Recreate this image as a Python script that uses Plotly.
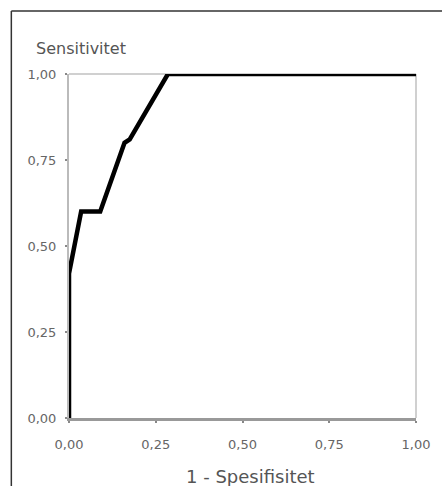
import plotly.graph_objects as go

# ROC curve points
fpr = [0.0, 0.0, 0.035, 0.09, 0.16, 0.175, 0.285, 1.0]   # 1 - Spesifisitet
tpr = [0.0, 0.42, 0.60, 0.60, 0.80, 0.81, 1.0, 1.0]     # Sensitivitet

tick_vals = [0.0, 0.25, 0.5, 0.75, 1.0]
tick_text = ["0,00", "0,25", "0,50", "0,75", "1,00"]

x_title = "1 - Spesifisitet"
y_title = "Sensitivitet"

FONT = "DejaVu Sans"
W, H = 442, 486
# plot area in window pixels
PX0, PX1, PY0, PY1 = 69, 418, 74, 418
L, R, T, B = PX0, W - PX1, PY0, H - PY1
pw, ph = PX1 - PX0, PY1 - PY0

def px_x(px):
    return (px - PX0) / pw

def px_y(py):
    return (PY1 - py) / ph

fig = go.Figure()
fig.add_trace(go.Scatter(
    x=fpr, y=tpr, mode="lines",
    line=dict(color="#000000", width=4.5),
    cliponaxis=False, hoverinfo="skip", showlegend=False,
))

axis_common = dict(
    range=[0, 1], tickvals=tick_vals, ticktext=tick_text,
    showgrid=False, zeroline=False, showline=True,
    ticks="outside", ticklen=2, tickwidth=2, tickcolor="#888888",
    tickfont=dict(family=FONT, size=13, color="#666666"),
    fixedrange=True,
)

fig.update_layout(
    width=W, height=H,
    margin=dict(l=L, r=R, t=T, b=B),
    paper_bgcolor="white", plot_bgcolor="white",
    xaxis=dict(**axis_common, linecolor="#999999", linewidth=3, ticklabelstandoff=10),
    yaxis=dict(**axis_common, linecolor="#bbbbbb", linewidth=2, ticklabelstandoff=6),
    shapes=[
        # light plot frame (top and right)
        dict(type="line", xref="paper", yref="paper", x0=0, x1=1, y0=1, y1=1,
             line=dict(color="#d0d0d0", width=2), layer="below"),
        dict(type="line", xref="paper", yref="paper", x0=1, x1=1, y0=0, y1=1,
             line=dict(color="#d0d0d0", width=2), layer="below"),
        # outer black frame (left and top)
        dict(type="line", xref="paper", yref="paper",
             x0=px_x(11), x1=px_x(W + 5), y0=px_y(11), y1=px_y(11),
             line=dict(color="#333333", width=1.5)),
        dict(type="line", xref="paper", yref="paper",
             x0=px_x(11), x1=px_x(11), y0=px_y(11), y1=px_y(H + 5),
             line=dict(color="#333333", width=1.5)),
    ],
    annotations=[
        dict(text=y_title, xref="paper", yref="paper", x=px_x(34), y=px_y(48),
             xanchor="left", yanchor="middle", showarrow=False,
             font=dict(family=FONT, size=16, color="#555555")),
        dict(text=x_title, xref="paper", yref="paper", x=px_x(252), y=px_y(476),
             xanchor="center", yanchor="middle", showarrow=False,
             font=dict(family=FONT, size=18, color="#555555")),
    ],
)

fig.write_html(
    "out.html",
    config={"displayModeBar": False, "staticPlot": True},
    post_script="document.documentElement.style.margin='0';"
                "document.documentElement.style.overflow='hidden';"
                "document.body.style.margin='0';"
                "document.body.style.overflow='hidden';",
)
